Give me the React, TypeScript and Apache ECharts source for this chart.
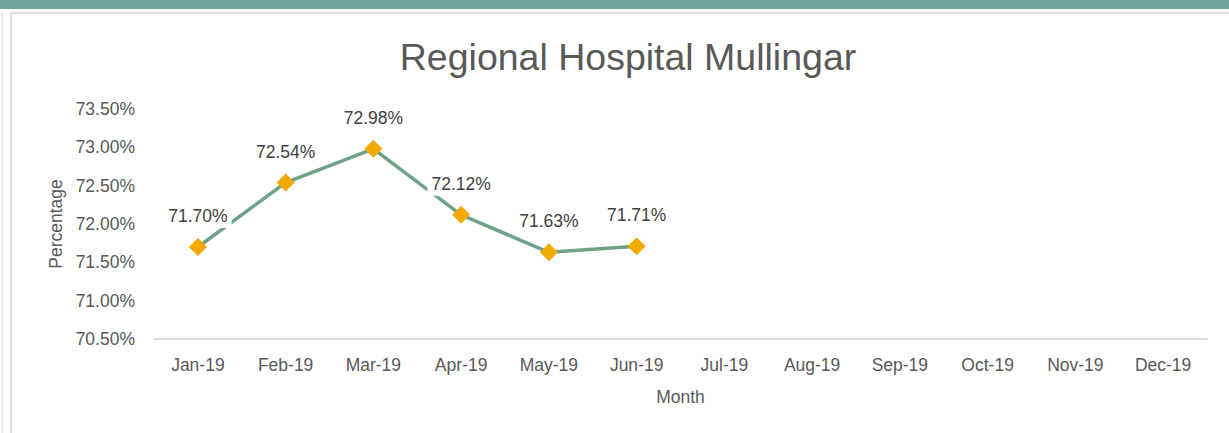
import React, { useEffect, useRef } from "react";
import * as echarts from "echarts";

const months = ["Jan-19", "Feb-19", "Mar-19", "Apr-19", "May-19", "Jun-19", "Jul-19", "Aug-19", "Sep-19", "Oct-19", "Nov-19", "Dec-19"];
const percentages: (number | null)[] = [71.70, 72.54, 72.98, 72.12, 71.63, 71.71, null, null, null, null, null, null];
const titleText = "Regional Hospital Mullingar";
const yMin = 70.5;
const yMax = 73.5;
const yStep = 0.5;

const FONT = "'Liberation Sans', Arial, sans-serif";

export default function App() {
  const ref = useRef<HTMLDivElement>(null);
  useEffect(() => {
    document.body.style.margin = "0";
    const chart = echarts.init(ref.current!, null, { renderer: "svg" });
    chart.setOption({
      animation: false,
      backgroundColor: "#ffffff",
      title: {
        text: titleText,
        left: 623,
        textAlign: "center",
        top: 33,
        textStyle: { fontFamily: FONT, fontSize: 37.5, fontWeight: "normal", color: "#595959" },
      },
      graphic: [
        { type: "rect", shape: { x: 0, y: 0, width: 1229, height: 9 }, style: { fill: "#6fa69b" } },
        { type: "rect", shape: { x: 10, y: 12, width: 1219, height: 2 }, style: { fill: "#dcdcdc" } },
        { type: "rect", shape: { x: 10, y: 12, width: 2, height: 421 }, style: { fill: "#d9d9d9" } },
        { type: "rect", shape: { x: 1, y: 13, width: 2, height: 420 }, style: { fill: "#ececec" } },
      ],
      grid: { left: 154, right: 22, top: 109, bottom: 94, containLabel: false },
      xAxis: {
        type: "category",
        data: months,
        boundaryGap: true,
        name: "Month",
        nameLocation: "middle",
        nameGap: 49,
        nameTextStyle: { fontFamily: FONT, fontSize: 17.5, color: "#595959" },
        axisLine: { lineStyle: { color: "#d9d9d9", width: 2 } },
        axisTick: { show: false },
        axisLabel: { fontFamily: FONT, fontSize: 17.5, color: "#595959", margin: 17, interval: 0 },
      },
      yAxis: {
        type: "value",
        min: yMin,
        max: yMax,
        interval: yStep,
        name: "Percentage",
        nameLocation: "middle",
        nameGap: 76,
        nameTextStyle: { fontFamily: FONT, fontSize: 17.5, color: "#595959" },
        axisLine: { show: false },
        axisTick: { show: false },
        splitLine: { show: false },
        axisLabel: {
          fontFamily: FONT,
          fontSize: 17.5,
          color: "#595959",
          margin: 19,
          formatter: (v: number) => v.toFixed(2) + "%",
        },
      },
      series: [
        {
          type: "line",
          data: percentages,
          connectNulls: false,
          symbol: "diamond",
          symbolSize: 18,
          itemStyle: { color: "#f2a900" },
          lineStyle: { color: "#6fa287", width: 3.5 },
          label: {
            show: true,
            position: "top",
            distance: 10,
            fontFamily: FONT,
            fontSize: 17.5,
            color: "#404040",
            backgroundColor: "#ffffff",
            padding: [3, 4],
            formatter: (p: any) => (p.value == null ? "" : Number(p.value).toFixed(2) + "%"),
          },
        },
      ],
    });
    return () => chart.dispose();
  }, []);
  return <div ref={ref} style={{ width: 1229, height: 433 }} />;
}
